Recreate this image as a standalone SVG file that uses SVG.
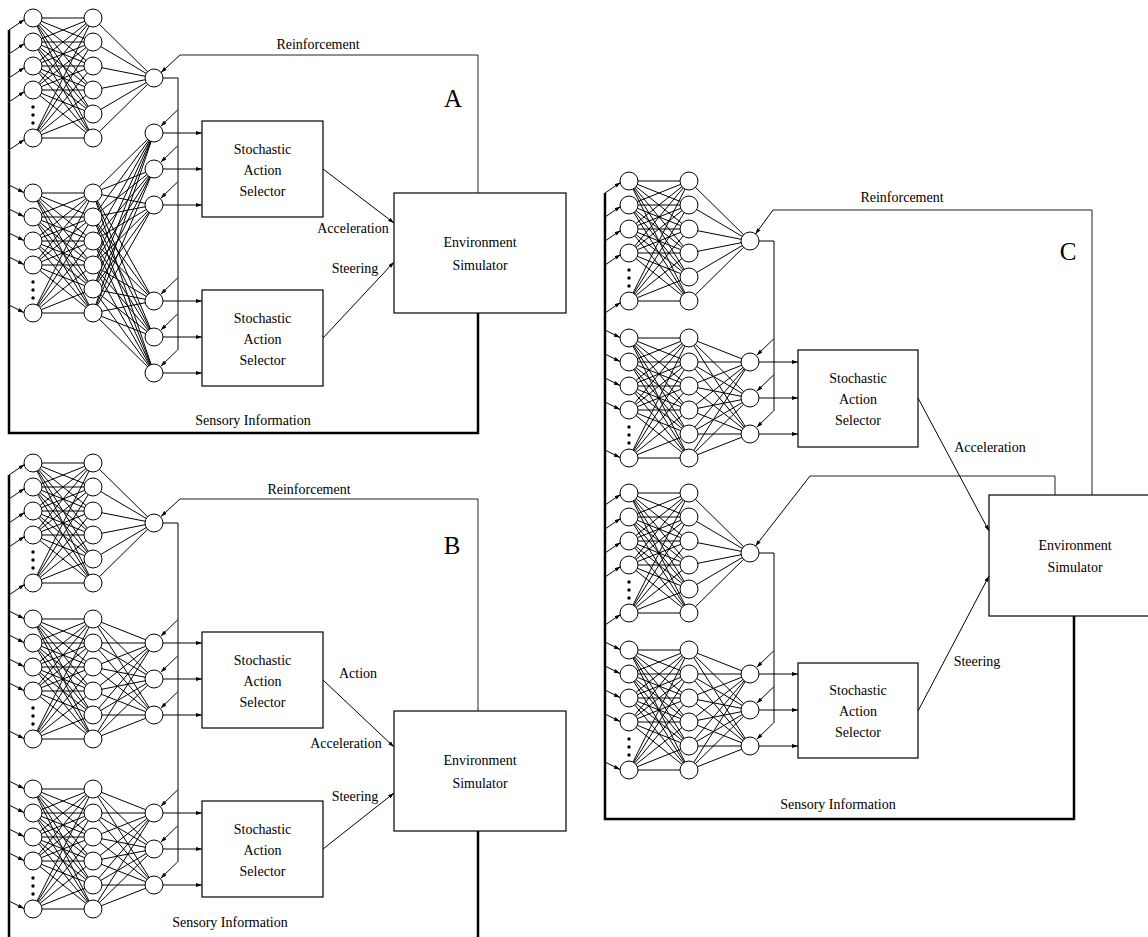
<svg xmlns="http://www.w3.org/2000/svg" xmlns:xlink="http://www.w3.org/1999/xlink" width="1148" height="937" viewBox="0 0 1148 937">
<style>
.l{stroke:#000;stroke-width:1;fill:none}
.r{stroke:#222;stroke-width:1;fill:none}
.a{stroke:#000;stroke-width:1;fill:none;marker-end:url(#ah)}
.n{fill:#fff;stroke:#000;stroke-width:1}
.d{fill:#000;stroke:none}
.b{fill:#fff;stroke:#000;stroke-width:1.2}
.f{fill:none;stroke:#000;stroke-width:2.5}
.t{font-family:"Liberation Serif","Times New Roman",serif;font-size:14px;text-anchor:middle;fill:#000}
.big{font-size:25px}
</style>
<defs>
<marker id="ah" markerWidth="6" markerHeight="4" refX="6" refY="2" orient="auto" markerUnits="userSpaceOnUse"><path d="M0,0L6,2L0,4z" fill="#000"/></marker>
<g id="net">
<path class="l" d="M0,0L60,0M0,0L60,24M0,0L60,48M0,0L60,72M0,0L60,96M0,0L60,120M0,24L60,0M0,24L60,24M0,24L60,48M0,24L60,72M0,24L60,96M0,24L60,120M0,48L60,0M0,48L60,24M0,48L60,48M0,48L60,72M0,48L60,96M0,48L60,120M0,72L60,0M0,72L60,24M0,72L60,48M0,72L60,72M0,72L60,96M0,72L60,120M0,120L60,0M0,120L60,24M0,120L60,48M0,120L60,72M0,120L60,96M0,120L60,120"/>
<circle class="n" cx="0" cy="0" r="9"/><circle class="n" cx="0" cy="24" r="9"/><circle class="n" cx="0" cy="48" r="9"/><circle class="n" cx="0" cy="72" r="9"/><circle class="n" cx="0" cy="120" r="9"/>
<circle class="d" cx="0" cy="89" r="1.7"/><circle class="d" cx="0" cy="97" r="1.7"/><circle class="d" cx="0" cy="105" r="1.7"/>
<circle class="n" cx="60" cy="0" r="9"/><circle class="n" cx="60" cy="24" r="9"/><circle class="n" cx="60" cy="48" r="9"/><circle class="n" cx="60" cy="72" r="9"/><circle class="n" cx="60" cy="96" r="9"/><circle class="n" cx="60" cy="120" r="9"/>
</g>
<path id="crit" class="l" d="M60,0L121,60M60,24L121,60M60,48L121,60M60,72L121,60M60,96L121,60M60,120L121,60"/>
<path id="act3" class="l" d="M60,0L121,24M60,24L121,24M60,48L121,24M60,72L121,24M60,96L121,24M60,120L121,24M60,0L121,60M60,24L121,60M60,48L121,60M60,72L121,60M60,96L121,60M60,120L121,60M60,0L121,96M60,24L121,96M60,48L121,96M60,72L121,96M60,96L121,96M60,120L121,96"/>
<path id="act6" class="l" d="M60,0L121,-60M60,24L121,-60M60,48L121,-60M60,72L121,-60M60,96L121,-60M60,120L121,-60M60,0L121,-24M60,24L121,-24M60,48L121,-24M60,72L121,-24M60,96L121,-24M60,120L121,-24M60,0L121,12M60,24L121,12M60,48L121,12M60,72L121,12M60,96L121,12M60,120L121,12M60,0L121,108M60,24L121,108M60,48L121,108M60,72L121,108M60,96L121,108M60,120L121,108M60,0L121,144M60,24L121,144M60,48L121,144M60,72L121,144M60,96L121,144M60,120L121,144M60,0L121,180M60,24L121,180M60,48L121,180M60,72L121,180M60,96L121,180M60,120L121,180"/>
<g id="inUp"><path class="a" d="M-24,12L-8.5,1.5"/><path class="a" d="M-24,36L-8.5,25.5"/><path class="a" d="M-24,60L-8.5,49.5"/><path class="a" d="M-24,84L-8.5,73.5"/><path class="a" d="M-24,132L-8.5,121.5"/></g>
<g id="inDown"><path class="a" d="M-24,-8L-9,-0.5"/><path class="a" d="M-24,16L-9,23.5"/><path class="a" d="M-24,40L-9,47.5"/><path class="a" d="M-24,64L-9,71.5"/><path class="a" d="M-24,112L-9,119.5"/></g>
<path id="rin" class="a" d="M23.5,-23L6.8,-6.8"/>
</defs>

<!-- ================= Panel A ================= -->
<g id="A-critic">
<use href="#crit" x="33" y="18"/><use href="#net" x="33" y="18"/><use href="#inUp" x="33" y="18"/>
<circle class="n" cx="154" cy="78" r="9"/>
</g>
<g id="A-actor">
<use href="#act6" x="33" y="193"/><use href="#net" x="33" y="193"/><use href="#inDown" x="33" y="193"/>
<circle class="n" cx="154" cy="133" r="9"/><circle class="n" cx="154" cy="169" r="9"/><circle class="n" cx="154" cy="205" r="9"/>
<circle class="n" cx="154" cy="301" r="9"/><circle class="n" cx="154" cy="337" r="9"/><circle class="n" cx="154" cy="373" r="9"/>
</g>
<g id="A-sel1"><rect class="b" x="202" y="121" width="121" height="96"/><text class="t" x="262.5" y="154">Stochastic</text><text class="t" x="262.5" y="175">Action</text><text class="t" x="262.5" y="196">Selector</text></g>
<g id="A-sel2"><rect class="b" x="202" y="290" width="121" height="96"/><text class="t" x="262.5" y="323">Stochastic</text><text class="t" x="262.5" y="344">Action</text><text class="t" x="262.5" y="365">Selector</text></g>
<g id="A-env"><rect class="b" x="394" y="193" width="172" height="120"/><text class="t" x="480" y="247">Environment</text><text class="t" x="480" y="270">Simulator</text></g>
<g id="A-labels">
<text class="t big" x="453" y="107">A</text>
<text class="t" x="318" y="49">Reinforcement</text>
<text class="t" x="353" y="233">Acceleration</text>
<text class="t" x="355" y="273">Steering</text>
<text class="t" x="253" y="425">Sensory Information</text>
</g>

<!-- ================= Panel B ================= -->
<g id="B-critic">
<use href="#crit" x="33" y="463"/><use href="#net" x="33" y="463"/><use href="#inUp" x="33" y="463"/>
<circle class="n" cx="154" cy="523" r="9"/>
</g>
<g id="B-actor1">
<use href="#act3" x="33" y="619"/><use href="#net" x="33" y="619"/><use href="#inDown" x="33" y="619"/>
<circle class="n" cx="154" cy="643" r="9"/><circle class="n" cx="154" cy="679" r="9"/><circle class="n" cx="154" cy="715" r="9"/>
</g>
<g id="B-actor2">
<use href="#act3" x="33" y="789"/><use href="#net" x="33" y="789"/><use href="#inDown" x="33" y="789"/>
<circle class="n" cx="154" cy="813" r="9"/><circle class="n" cx="154" cy="849" r="9"/><circle class="n" cx="154" cy="885" r="9"/>
</g>
<g id="B-sel1"><rect class="b" x="202" y="632" width="121" height="96"/><text class="t" x="262.5" y="665">Stochastic</text><text class="t" x="262.5" y="686">Action</text><text class="t" x="262.5" y="707">Selector</text></g>
<g id="B-sel2"><rect class="b" x="202" y="801" width="121" height="96"/><text class="t" x="262.5" y="834">Stochastic</text><text class="t" x="262.5" y="855">Action</text><text class="t" x="262.5" y="876">Selector</text></g>
<g id="B-env"><rect class="b" x="394" y="711" width="172" height="120"/><text class="t" x="480" y="765">Environment</text><text class="t" x="480" y="788">Simulator</text></g>
<g id="B-labels">
<text class="t big" x="452" y="554">B</text>
<text class="t" x="309" y="494">Reinforcement</text>
<text class="t" x="358" y="678">Action</text>
<text class="t" x="346" y="748">Acceleration</text>
<text class="t" x="355" y="801">Steering</text>
<text class="t" x="230" y="927">Sensory Information</text>
</g>

<!-- ================= Panel C ================= -->
<g id="C-critic1">
<use href="#crit" x="629" y="181"/><use href="#net" x="629" y="181"/><use href="#inUp" x="629" y="181"/>
<circle class="n" cx="750" cy="241" r="9"/>
</g>
<g id="C-actor1">
<use href="#act3" x="629" y="338"/><use href="#net" x="629" y="338"/><use href="#inDown" x="629" y="338"/>
<circle class="n" cx="750" cy="362" r="9"/><circle class="n" cx="750" cy="398" r="9"/><circle class="n" cx="750" cy="434" r="9"/>
</g>
<g id="C-critic2">
<use href="#crit" x="629" y="493"/><use href="#net" x="629" y="493"/><use href="#inUp" x="629" y="493"/>
<circle class="n" cx="750" cy="553" r="9"/>
</g>
<g id="C-actor2">
<use href="#act3" x="629" y="650"/><use href="#net" x="629" y="650"/><use href="#inDown" x="629" y="650"/>
<circle class="n" cx="750" cy="674" r="9"/><circle class="n" cx="750" cy="710" r="9"/><circle class="n" cx="750" cy="746" r="9"/>
</g>
<g id="C-sel1"><rect class="b" x="798" y="350" width="120" height="97"/><text class="t" x="858" y="383">Stochastic</text><text class="t" x="858" y="404">Action</text><text class="t" x="858" y="425">Selector</text></g>
<g id="C-sel2"><rect class="b" x="798" y="663" width="120" height="95"/><text class="t" x="858" y="695">Stochastic</text><text class="t" x="858" y="716">Action</text><text class="t" x="858" y="737">Selector</text></g>
<g id="C-env"><rect class="b" x="989" y="495" width="172" height="121"/><text class="t" x="1075" y="550">Environment</text><text class="t" x="1075" y="572">Simulator</text></g>
<g id="C-labels">
<text class="t big" x="1068" y="260">C</text>
<text class="t" x="902" y="202">Reinforcement</text>
<text class="t" x="990" y="452">Acceleration</text>
<text class="t" x="977" y="666">Steering</text>
<text class="t" x="838" y="809">Sensory Information</text>
</g>

<!-- ================= Connectors ================= -->
<g id="connectors">
<!-- A -->
<path class="f" d="M9,30V433H478V313"/>
<path class="r" d="M478,193V55H180"/><path class="a" d="M180,55L161,72.5"/>
<path class="l" d="M163,78H178V350"/>
<use href="#rin" x="154" y="133"/><use href="#rin" x="154" y="169"/><use href="#rin" x="154" y="205"/>
<use href="#rin" x="154" y="301"/><use href="#rin" x="154" y="337"/><use href="#rin" x="154" y="373"/>
<path class="a" d="M163,133H202"/><path class="a" d="M163,169H202"/><path class="a" d="M163,205H202"/>
<path class="a" d="M163,301H202"/><path class="a" d="M163,337H202"/><path class="a" d="M163,373H202"/>
<path class="a" d="M323,169L394,223"/><path class="a" d="M323,338L394,262"/>
<!-- B -->
<path class="f" d="M9,475V937"/><path class="f" d="M478,831V937"/>
<path class="r" d="M478,711V499H180"/><path class="a" d="M180,499L161,516.5"/>
<path class="l" d="M163,523H178V862"/>
<use href="#rin" x="154" y="643"/><use href="#rin" x="154" y="679"/><use href="#rin" x="154" y="715"/>
<use href="#rin" x="154" y="813"/><use href="#rin" x="154" y="849"/><use href="#rin" x="154" y="885"/>
<path class="a" d="M163,643H202"/><path class="a" d="M163,679H202"/><path class="a" d="M163,715H202"/>
<path class="a" d="M163,813H202"/><path class="a" d="M163,849H202"/><path class="a" d="M163,885H202"/>
<path class="a" d="M323,680L394,747"/><path class="a" d="M323,849L394,793"/>
<!-- C -->
<path class="f" d="M605,193V819H1074V616"/>
<path class="r" d="M1092,495V210H773"/><path class="a" d="M773,210L755.5,234"/>
<path class="r" d="M1055,495V476H810"/><path class="a" d="M810,476L755.5,546"/>
<path class="l" d="M759,241H774V411"/><path class="l" d="M759,553H774V723"/>
<use href="#rin" x="750" y="362"/><use href="#rin" x="750" y="398"/><use href="#rin" x="750" y="434"/>
<use href="#rin" x="750" y="674"/><use href="#rin" x="750" y="710"/><use href="#rin" x="750" y="746"/>
<path class="a" d="M759,362H798"/><path class="a" d="M759,398H798"/><path class="a" d="M759,434H798"/>
<path class="a" d="M759,674H798"/><path class="a" d="M759,710H798"/><path class="a" d="M759,746H798"/>
<path class="a" d="M918,398L989,531"/><path class="a" d="M918,711L989,576"/>
</g>
</svg>
